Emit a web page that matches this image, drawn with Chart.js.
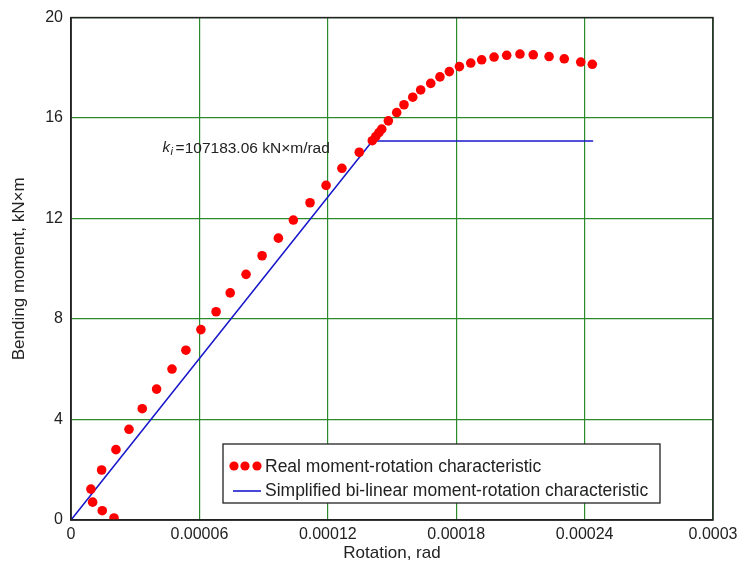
<!DOCTYPE html>
<html>
<head>
<meta charset="utf-8">
<script src="https://cdn.jsdelivr.net/npm/chart.js@4.4.1/dist/chart.umd.min.js"></script>
<style>
  html, body { margin: 0; padding: 0; background: #fff; }
  #wrap { width: 743px; height: 569px; }
</style>
</head>
<body>
<div id="wrap"><canvas id="chart"></canvas></div>
<script>
// measured moment-rotation points (rotation in rad, moment in kN·m)
const realRotation = [
    2.01e-5, 1.46e-5, 1.01e-5, 0.93e-5, 1.43e-5, 2.10e-5, 2.71e-5, 3.33e-5, 4.00e-5,
    4.72e-5, 5.37e-5, 6.07e-5, 6.78e-5, 7.44e-5, 8.18e-5, 8.93e-5, 9.69e-5, 10.39e-5,
    11.17e-5, 11.92e-5, 12.66e-5, 13.47e-5, 14.08e-5, 14.24e-5, 14.39e-5, 14.52e-5,
    14.83e-5, 15.22e-5, 15.56e-5, 15.97e-5, 16.34e-5, 16.81e-5, 17.24e-5, 17.68e-5,
    18.15e-5, 18.68e-5, 19.19e-5, 19.77e-5, 20.36e-5, 20.98e-5, 21.60e-5, 22.34e-5,
    23.05e-5, 23.82e-5, 24.36e-5
];
const realMoment = [
    0.08, 0.37, 0.71, 1.23, 1.99, 2.80, 3.61, 4.43, 5.21,
    6.01, 6.76, 7.58, 8.29, 9.04, 9.78, 10.52, 11.22, 11.94,
    12.63, 13.32, 14.00, 14.64, 15.10, 15.26, 15.42, 15.56,
    15.89, 16.22, 16.53, 16.83, 17.12, 17.38, 17.64, 17.85,
    18.05, 18.19, 18.32, 18.43, 18.50, 18.55, 18.52, 18.45,
    18.36, 18.23, 18.14
];

// bi-linear approximation
const bilinRotation = [0, 0.0001408, 0.000244];
const bilinMoment = [0, 15.09, 15.09];

const xTicks = [0, 0.00006, 0.00012, 0.00018, 0.00024, 0.0003];
const xTickLabels = ["0", "0.00006", "0.00012", "0.00018", "0.00024", "0.0003"];
const yTicks = [0, 4, 8, 12, 16, 20];
const yTickLabels = ["0", "4", "8", "12", "16", "20"];

const legendLabels = ["Real moment-rotation characteristic", "Simplified bi-linear moment-rotation characteristic"];
const annotationText = "=107183.06 kN\u00d7m/rad";
const annotationAt = { x: 0.0000428, y: 14.8 };

const FONT = "'Liberation Sans', Arial, sans-serif";
const RED = "#ff0000";
const BLUE = "#1a1acc";

const realPoints = realRotation.map((x, i) => ({ x: x, y: realMoment[i] }));
const bilinPoints = bilinRotation.map((x, i) => ({ x: x, y: bilinMoment[i] }));

// frame, legend box and the k_i note
const extras = {
    id: "extras",
    afterDatasetsDraw(chart) {
        const ctx = chart.ctx;
        const a = chart.chartArea;
        const xs = chart.scales.x, ys = chart.scales.y;

        ctx.save();
        ctx.strokeStyle = "#222";
        ctx.lineWidth = 1.5;
        ctx.strokeRect(a.left, a.top, a.right - a.left, a.bottom - a.top);

        // annotation
        const ax = xs.getPixelForValue(annotationAt.x);
        const ay = ys.getPixelForValue(annotationAt.y);
        ctx.fillStyle = "#222";
        ctx.textBaseline = "middle";
        ctx.font = "italic 15px " + FONT;
        ctx.fillText("k", ax, ay);
        ctx.font = "italic 11px " + FONT;
        ctx.fillText("i", ax + 8, ay + 4);
        ctx.font = "15.5px " + FONT;
        ctx.fillText(annotationText, ax + 13, ay);

        // legend
        const lx = a.left + 152, ly = 444, lw = 437, lh = 59;
        ctx.fillStyle = "#fff";
        ctx.fillRect(lx, ly, lw, lh);
        ctx.strokeStyle = "#222";
        ctx.lineWidth = 1.3;
        ctx.strokeRect(lx, ly, lw, lh);

        ctx.fillStyle = RED;
        [11, 22, 34].forEach(dx => {
            ctx.beginPath();
            ctx.arc(lx + dx, ly + 22, 4.6, 0, Math.PI * 2);
            ctx.fill();
        });
        ctx.strokeStyle = BLUE;
        ctx.lineWidth = 1.6;
        ctx.beginPath();
        ctx.moveTo(lx + 10, ly + 47);
        ctx.lineTo(lx + 38, ly + 47);
        ctx.stroke();

        ctx.fillStyle = "#222";
        ctx.font = "17.5px " + FONT;
        ctx.fillText(legendLabels[0], lx + 42, ly + 23);
        ctx.fillText(legendLabels[1], lx + 42, ly + 47);
        ctx.restore();
    }
};

const ctx = document.getElementById("chart").getContext("2d");
new Chart(ctx, {
    type: "scatter",
    data: {
        datasets: [
            {
                label: legendLabels[0],
                data: realPoints,
                backgroundColor: RED,
                borderColor: RED,
                pointRadius: 4.8,
                pointBorderWidth: 0,
                order: 1
            },
            {
                label: legendLabels[1],
                data: bilinPoints,
                showLine: true,
                borderColor: BLUE,
                borderWidth: 1.6,
                pointRadius: 0,
                order: 2
            }
        ]
    },
    options: {
        responsive: true,
        maintainAspectRatio: false,
        animation: false,
        layout: { padding: { left: 0, right: 30, top: 11, bottom: 0 } },
        plugins: { legend: { display: false }, tooltip: { enabled: false } },
        scales: {
            x: {
                type: "linear",
                min: 0,
                max: 0.0003,
                afterBuildTicks: (s) => { s.ticks = xTicks.map(v => ({ value: v })); },
                afterFit: (s) => { s.height = 49; },
                ticks: {
                    padding: 5,
                    color: "#222",
                    font: { family: FONT, size: 16 },
                    maxRotation: 0,
                    callback: (v, i) => xTickLabels[i]
                },
                grid: { color: "#2b8a2b", lineWidth: 1.2, drawTicks: false },
                border: { color: "#222", width: 1.5 },
                title: {
                    display: true,
                    text: "Rotation, rad",
                    color: "#222",
                    font: { family: FONT, size: 17 },
                    padding: { top: 0, bottom: 5 }
                }
            },
            y: {
                type: "linear",
                min: 0,
                max: 20,
                afterBuildTicks: (s) => { s.ticks = yTicks.map(v => ({ value: v })); },
                afterFit: (s) => { s.width = 71; },
                ticks: {
                    padding: 8,
                    color: "#222",
                    font: { family: FONT, size: 16 },
                    callback: (v, i) => yTickLabels[i]
                },
                grid: { color: "#2b8a2b", lineWidth: 1.2, drawTicks: false },
                border: { color: "#222", width: 1.5 },
                title: {
                    display: true,
                    text: "Bending moment, kN\u00d7m",
                    color: "#222",
                    font: { family: FONT, size: 17 },
                    padding: { top: 9, bottom: 0 }
                }
            }
        }
    },
    plugins: [extras]
});
</script>
</body>
</html>
